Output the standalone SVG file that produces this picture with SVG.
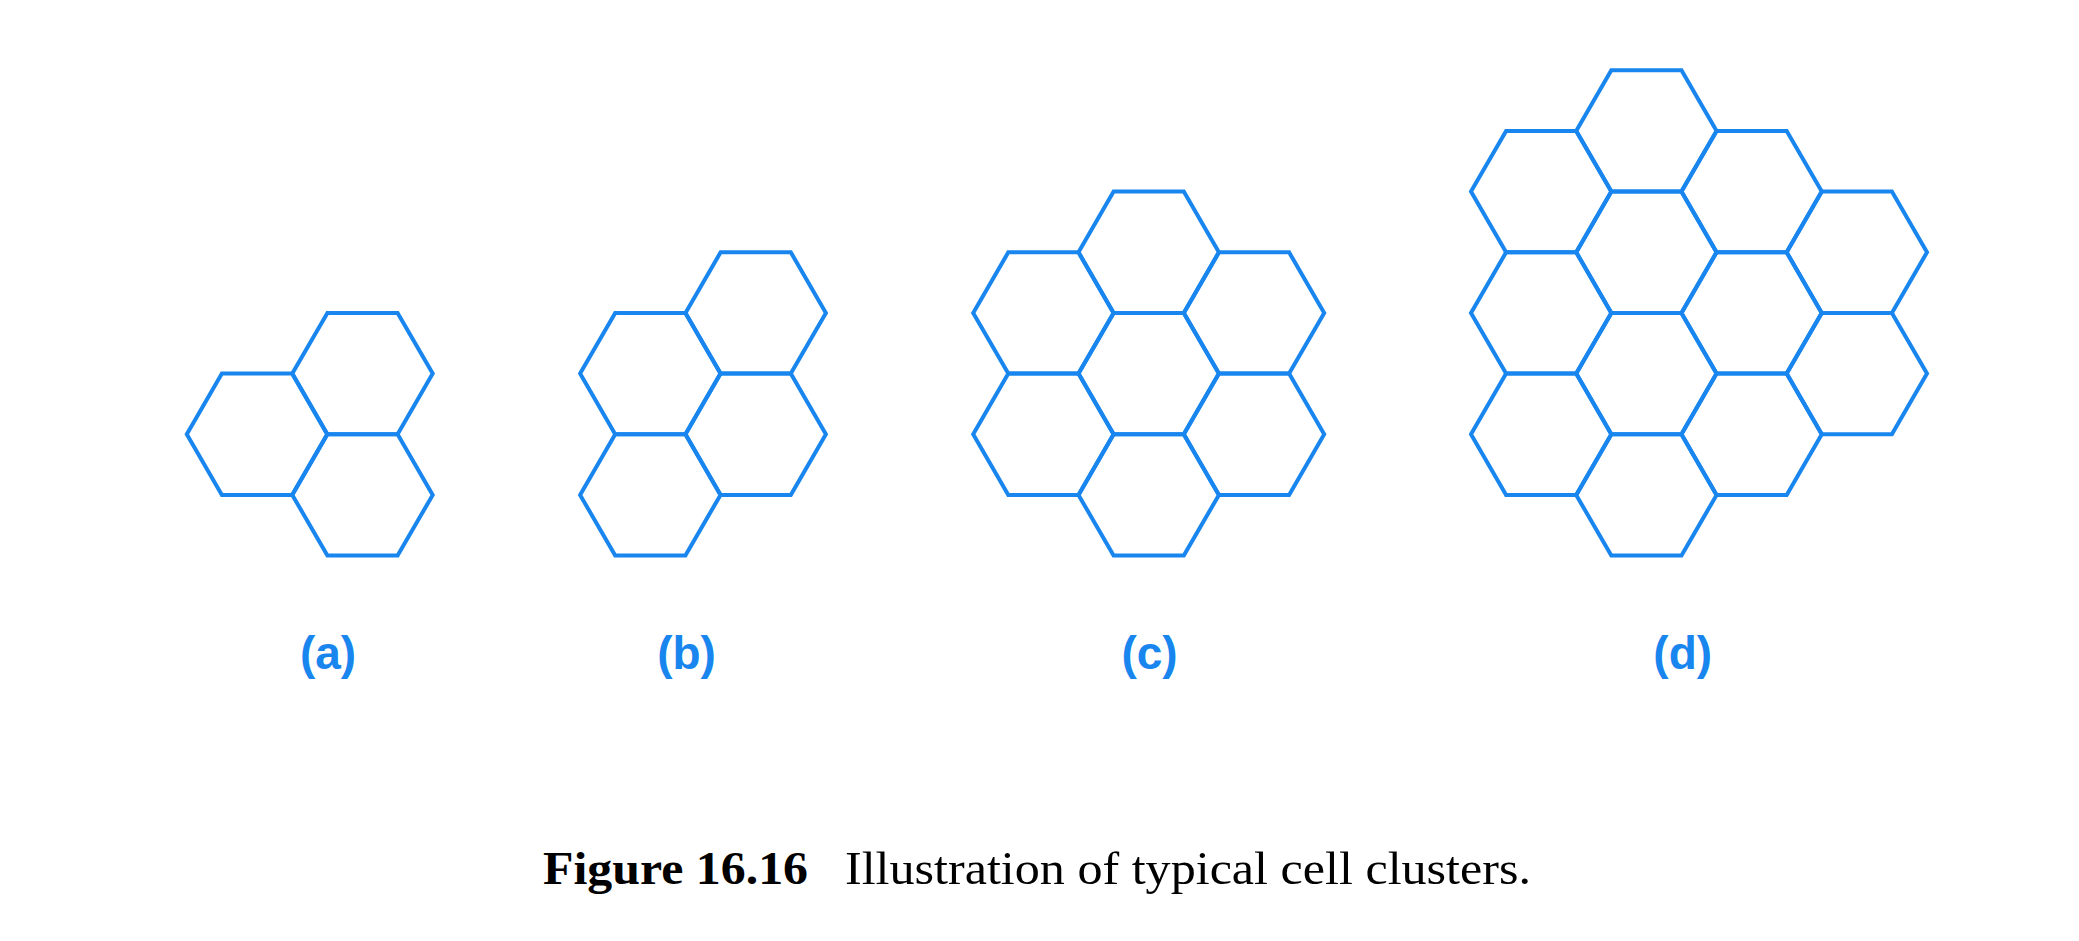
<svg xmlns="http://www.w3.org/2000/svg" xmlns:xlink="http://www.w3.org/1999/xlink" width="2079" height="941" viewBox="0 0 2079 941">
<style>
.hex{fill:none;stroke:#1886ee;stroke-width:4;stroke-linejoin:miter}
.lbl{font-family:"Liberation Sans",Arial,sans-serif;font-weight:bold;font-size:46px;fill:#1886ee;text-anchor:middle}
.capb{font-family:"Liberation Serif","Times New Roman",serif;font-weight:bold;font-size:46px;fill:#000}
.capr{font-family:"Liberation Serif","Times New Roman",serif;font-size:46px;fill:#000}
</style>
<defs>
<polygon id="hex" points="-70.2,0 -35.1,-60.66 35.1,-60.66 70.2,0 35.1,60.66 -35.1,60.66"/>
</defs>
<rect width="2079" height="941" fill="#fff"/>
<g id="cluster-a" class="hex">
<use xlink:href="#hex" x="362.5" y="373.6"/>
<use xlink:href="#hex" x="257" y="434.26"/>
<use xlink:href="#hex" x="362.5" y="494.92"/>
</g>
<g id="cluster-b" class="hex">
<use xlink:href="#hex" x="755.7" y="312.94"/>
<use xlink:href="#hex" x="650.3" y="373.6"/>
<use xlink:href="#hex" x="755.7" y="434.26"/>
<use xlink:href="#hex" x="650.3" y="494.92"/>
</g>
<g id="cluster-c" class="hex">
<use xlink:href="#hex" x="1148.7" y="252.28"/>
<use xlink:href="#hex" x="1043.4" y="312.94"/>
<use xlink:href="#hex" x="1254" y="312.94"/>
<use xlink:href="#hex" x="1148.7" y="373.6"/>
<use xlink:href="#hex" x="1043.4" y="434.26"/>
<use xlink:href="#hex" x="1254" y="434.26"/>
<use xlink:href="#hex" x="1148.7" y="494.92"/>
</g>
<g id="cluster-d" class="hex">
<use xlink:href="#hex" x="1541.2" y="191.62"/>
<use xlink:href="#hex" x="1541.2" y="312.94"/>
<use xlink:href="#hex" x="1541.2" y="434.26"/>
<use xlink:href="#hex" x="1646.4" y="130.96"/>
<use xlink:href="#hex" x="1646.4" y="252.28"/>
<use xlink:href="#hex" x="1646.4" y="373.6"/>
<use xlink:href="#hex" x="1646.4" y="494.92"/>
<use xlink:href="#hex" x="1751.6" y="191.62"/>
<use xlink:href="#hex" x="1751.6" y="312.94"/>
<use xlink:href="#hex" x="1751.6" y="434.26"/>
<use xlink:href="#hex" x="1856.8" y="252.28"/>
<use xlink:href="#hex" x="1856.8" y="373.6"/>
</g>
<g id="connectors"/>
<g id="labels">
<text class="lbl" x="328" y="669">(a)</text>
<text class="lbl" x="686.5" y="669">(b)</text>
<text class="lbl" x="1149.6" y="669">(c)</text>
<text class="lbl" x="1682.7" y="669">(d)</text>
</g>
<g id="caption">
<text class="capb" x="543" y="884" textLength="265" lengthAdjust="spacingAndGlyphs">Figure 16.16</text>
<text class="capr" x="845" y="884" textLength="686" lengthAdjust="spacingAndGlyphs">Illustration of typical cell clusters.</text>
</g>
</svg>
